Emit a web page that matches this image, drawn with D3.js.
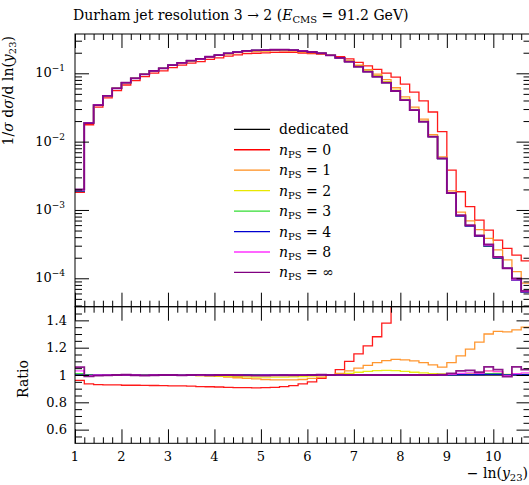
<!DOCTYPE html>
<html><head><meta charset="utf-8">
<script src="https://cdn.jsdelivr.net/npm/d3@7"></script>
<style>
html,body{margin:0;padding:0;background:#fff;}
svg{display:block;font-family:"DejaVu Serif",serif;}
</style></head><body>
<svg id="c" width="529" height="485"></svg>
<script>
// ---------- data ----------
const binLow = [1.0,1.2,1.4,1.6,1.8,2.0,2.2,2.4,2.6,2.8,3.0,3.2,3.4,3.6,3.8,4.0,4.2,4.4,4.6,4.8,
  5.0,5.2,5.4,5.6,5.8,6.0,6.2,6.4,6.6,6.8,7.0,7.2,7.4,7.6,7.8,8.0,8.2,8.4,8.6,8.8,
  9.0,9.2,9.4,9.6,9.8,10.0,10.2,10.4,10.6];
const binHigh = 10.8;
const dedicated = [0.00189,0.0189,0.0344,0.047,0.0603,0.0729,0.0845,0.0967,0.109,0.118,
  0.132,0.143,0.153,0.162,0.175,0.185,0.196,0.205,0.214,0.217,
  0.219,0.222,0.222,0.219,0.212,0.205,0.196,0.183,0.168,0.148,
  0.125,0.106,0.0892,0.0729,0.0551,0.0406,0.029,0.0196,0.0118,0.00566,
  0.00175,0.000814,0.000581,0.000415,0.000296,0.000198,0.000141,0.0000941,0.0000628];
// ratios to "dedicated"
const ratioN0 = [0.96,0.935,0.93,0.928,0.927,0.925,0.925,0.924,0.923,0.922,
  0.92,0.92,0.918,0.915,0.914,0.912,0.91,0.908,0.907,0.906,
  0.907,0.91,0.915,0.922,0.935,0.95,0.975,1.0,1.04,1.1,
  1.155,1.213,1.28,1.38,1.6,1.71,1.83,2.01,2.3,2.47,
  2.19,2.27,1.92,1.71,1.71,1.83,1.94,2.32,2.87];
const ratioN1 = [1.0,1.003,1.003,1.002,1.003,1.002,1.002,1.001,1.0,1.0,
  1.0,0.999,0.998,0.996,0.993,0.99,0.985,0.98,0.975,0.972,
  0.967,0.965,0.965,0.965,0.967,0.975,0.985,1.0,1.012,1.03,
  1.05,1.07,1.09,1.105,1.115,1.11,1.103,1.09,1.074,1.057,
  1.09,1.14,1.19,1.24,1.3,1.32,1.315,1.33,1.35];
const ratioN2 = [1.0,1.001,1.002,1.001,1.0,1.001,1.0,1.0,1.0,1.0,
  1.0,0.999,0.998,0.996,0.994,0.992,0.99,0.988,0.986,0.985,
  0.984,0.984,0.985,0.986,0.988,0.992,0.996,1.0,1.005,1.012,
  1.02,1.027,1.032,1.034,1.032,1.027,1.02,1.015,1.01,1.008,
  1.006,1.008,1.01,1.015,1.03,1.025,1.005,1.01,1.005];
const ratioN3 = [1.01,1.0,1.002,1.0,1.0,1.002,1.0,0.998,1.0,1.0,
  1.002,1.0,1.0,0.998,1.0,1.0,1.0,0.998,1.0,1.0,
  0.999,1.0,1.0,1.0,0.999,1.0,1.0,1.0,1.0,1.001,
  1.0,1.0,1.0,1.001,1.0,1.0,1.0,1.0,1.0,1.002,
  1.003,1.005,1.005,1.005,1.01,1.01,1.0,1.005,1.005];
const ratioN4 = [1.0,0.998,1.0,1.0,0.999,1.0,1.0,0.999,1.0,1.0,
  1.0,0.999,1.0,1.0,1.0,0.999,1.0,1.0,1.0,0.999,
  1.0,1.0,1.0,1.0,1.0,1.0,1.0,1.0,1.0,1.0,
  1.0,1.0,1.0,1.0,1.0,1.0,1.0,1.0,1.0,1.0,
  1.002,1.003,1.003,1.003,1.005,1.005,1.0,1.003,1.003];
const ratioN8 = [1.03,0.995,1.0,1.0,0.998,1.0,1.0,0.997,1.0,1.0,
  1.0,0.998,1.0,1.0,0.998,1.0,1.0,0.998,0.997,0.997,
  0.998,0.998,0.999,1.0,1.0,1.0,1.0,1.0,1.001,1.0,
  1.0,1.0,1.0,1.0,1.0,1.0,1.0,1.0,1.0,1.002,
  1.005,1.012,1.015,1.012,1.03,1.025,0.995,1.01,1.015];
const ratioNinf = [1.057,0.99,0.995,0.997,1.0,1.002,0.998,0.996,0.998,1.0,
  1.0,0.997,1.0,1.001,0.998,1.0,1.0,0.998,0.997,0.995,
  0.996,0.997,0.998,0.998,0.999,1.0,1.002,1.0,1.001,1.0,
  1.0,1.0,1.0,1.0,1.0,1.0,1.0,1.0,1.0,1.002,
  1.012,1.03,1.034,1.02,1.06,1.04,0.988,1.06,1.04];
const ratioDedicated = dedicated.map(() => 1);

const seriesNames = ["dedicated","0","1","2","3","4","8","∞"];
const seriesColors = ["#000000","#ff0000","#ff8c1a","#e8e800","#33dd33","#0000d0","#ff33ff","#800080"];
const seriesRatios = [ratioDedicated,ratioN0,ratioN1,ratioN2,ratioN3,ratioN4,ratioN8,ratioNinf];

const xTickValues = [1,2,3,4,5,6,7,8,9,10];
const xTickLabels = ["1","2","3","4","5","6","7","8","9","10"];
const yTickValues = [1e-1,1e-2,1e-3,1e-4];
const yTickExps = ["−1","−2","−3","−4"];
const rTickValues = [0.6,0.8,1.0,1.2,1.4];
const rTickLabels = ["0.6","0.8","1","1.2","1.4"];

// ---------- layout ----------
const L = 75, R = 530.5, T = 34, M = 306.7, B = 443.3;
const svg = d3.select("#c");
const x = d3.scaleLinear().domain([1, binHigh]).range([L, R]);
const y = d3.scaleLog().domain([3.84e-5, 0.376]).range([M, T]);
const yr = d3.scaleLinear().domain([0.5, 1.5]).range([B, M]);

const defs = svg.append("defs");
defs.append("clipPath").attr("id","cm").append("rect").attr("x",L).attr("y",T).attr("width",R-L).attr("height",M-T);
defs.append("clipPath").attr("id","cr").append("rect").attr("x",L).attr("y",M).attr("width",R-L).attr("height",B-M);

function stepPts(vals){
  const p = binLow.map((b,i)=>[b, vals[i]]);
  p.push([binHigh, vals[vals.length-1]]);
  return p;
}
const lineMain = d3.line().x(d=>x(d[0])).y(d=>y(d[1])).curve(d3.curveStepAfter);
const lineRatio = d3.line().x(d=>x(d[0])).y(d=>yr(d[1])).curve(d3.curveStepAfter);

const gMain = svg.append("g").attr("clip-path","url(#cm)");
const gRat = svg.append("g").attr("clip-path","url(#cr)");
seriesRatios.forEach((r,k)=>{
  const vals = dedicated.map((d,i)=>d*r[i]);
  const w = k===7 ? 1.8 : 1.3;
  gMain.append("path").attr("d", lineMain(stepPts(vals))).attr("fill","none")
    .attr("stroke", seriesColors[k]).attr("stroke-width", w).attr("stroke-opacity",0.9);
  gRat.append("path").attr("d", lineRatio(stepPts(r))).attr("fill","none")
    .attr("stroke", seriesColors[k]).attr("stroke-width", w).attr("stroke-opacity",0.9);
});

// ---------- axes / ticks ----------
const xMinor = d3.range(1.2, 10.81, 0.2).filter(v=>Math.abs(v-Math.round(v))>1e-6);
function xt(yPos, dir, vals, len){
  const ax = (dir>0 ? d3.axisTop(x) : d3.axisBottom(x)).tickValues(vals).tickSize(-len).tickFormat("");
  svg.append("g").attr("transform",`translate(0,${yPos})`).call(ax).call(g=>g.select(".domain").remove());
}
xt(T, 1, xTickValues, 14); xt(T, 1, xMinor, 6);
xt(M, -1, xTickValues, 14); xt(M, -1, xMinor, 6);
xt(M, 1, xTickValues, 14); xt(M, 1, xMinor, 6);
xt(B, -1, xTickValues, 14); xt(B, -1, xMinor, 6);

function ytk(scale, vals, len){
  svg.append("g").attr("transform",`translate(${L},0)`).call(d3.axisLeft(scale).tickValues(vals).tickSize(-len).tickFormat("")).call(g=>g.select(".domain").remove());
  svg.append("g").attr("transform",`translate(${R},0)`).call(d3.axisRight(scale).tickValues(vals).tickSize(-len).tickFormat("")).call(g=>g.select(".domain").remove());
}
const yMinor = [];
[-5,-4,-3,-2,-1].forEach(e=>{[2,3,4,5,6,7,8,9].forEach(m=>{const v=m*Math.pow(10,e); if(v>=3.84e-5 && v<=0.376) yMinor.push(v);});});
ytk(y, yTickValues, 14); ytk(y, yMinor, 7);
const rMinor = d3.range(0.55, 1.5, 0.05).filter(v=>Math.abs(v*5-Math.round(v*5))>1e-6);
ytk(yr, rTickValues, 14); ytk(yr, rMinor, 7);
svg.selectAll(".tick line").attr("stroke","#000").attr("stroke-width",1);

// frames
svg.append("rect").attr("x",L).attr("y",T).attr("width",R-L).attr("height",M-T).attr("fill","none").attr("stroke","#000").attr("stroke-width",1);
svg.append("rect").attr("x",L).attr("y",M).attr("width",R-L).attr("height",B-M).attr("fill","none").attr("stroke","#000").attr("stroke-width",1);

// ---------- labels ----------
const fs = 14;
// y tick labels main
yTickValues.forEach((v,i)=>{
  const t = svg.append("text").attr("x",L-10).attr("y",y(v)+4).attr("text-anchor","end").attr("font-size",13);
  t.append("tspan").text("10");
  t.append("tspan").attr("dy",-6).attr("font-size",9).text(yTickExps[i]);
});
rTickValues.forEach((v,i)=>{
  svg.append("text").attr("x",L-8).attr("y",yr(v)+4.5).attr("text-anchor","end").attr("font-size",13).text(rTickLabels[i]);
});
xTickValues.forEach((v,i)=>{
  svg.append("text").attr("x",x(v)).attr("y",461).attr("text-anchor","middle").attr("font-size",13).text(xTickLabels[i]);
});

// title
const title = svg.append("text").attr("x",73).attr("y",20).attr("font-size",fs);
title.append("tspan").text("Durham jet resolution 3 → 2 (");
title.append("tspan").attr("font-style","italic").text("E");
title.append("tspan").attr("dy",3).attr("font-size",10).text("CMS");
title.append("tspan").attr("dy",-3).text(" = 91.2 GeV)");

// y label
const yl = svg.append("text").attr("transform","translate(13,36) rotate(-90)").attr("text-anchor","end").attr("font-size",fs);
yl.append("tspan").text("1/");
yl.append("tspan").attr("font-style","italic").text("σ");
yl.append("tspan").text(" d");
yl.append("tspan").attr("font-style","italic").text("σ");
yl.append("tspan").text("/d ln(");
yl.append("tspan").attr("font-style","italic").text("y");
yl.append("tspan").attr("dy",3).attr("font-size",10).text("23");
yl.append("tspan").attr("dy",-3).text(")");

svg.append("text").attr("transform","translate(28,379) rotate(-90)").attr("text-anchor","middle").attr("font-size",fs).text("Ratio");

const xl = svg.append("text").attr("x",528).attr("y",478).attr("text-anchor","end").attr("font-size",fs);
xl.append("tspan").text("− ln(");
xl.append("tspan").attr("font-style","italic").text("y");
xl.append("tspan").attr("dy",3).attr("font-size",10).text("23");
xl.append("tspan").attr("dy",-3).text(")");

// legend
seriesNames.forEach((n,k)=>{
  const ly = 129.3 + 20.45*k;
  svg.append("line").attr("x1",234).attr("x2",270).attr("y1",ly).attr("y2",ly)
    .attr("stroke",seriesColors[k]).attr("stroke-width",1.3);
  const t = svg.append("text").attr("x",279).attr("y",ly+5).attr("font-size",fs);
  if(k===0){ t.text(n); }
  else {
    t.append("tspan").attr("font-style","italic").text("n");
    t.append("tspan").attr("dy",3).attr("font-size",10).text("PS");
    t.append("tspan").attr("dy",-3).text(" = " + n);
  }
});
</script></body></html>
